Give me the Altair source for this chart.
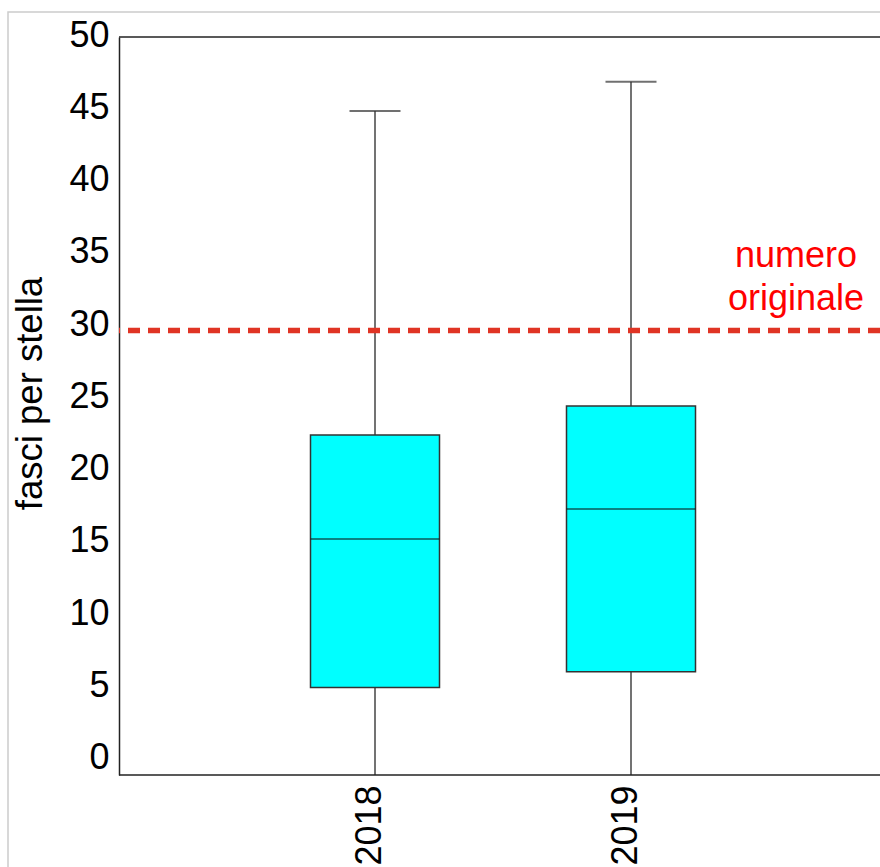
import altair as alt
import pandas as pd

# ---- data ----
years = ["2018", "2019"]
w_min = [-1.05, -1.05]
q1 = [5.0, 6.1]
median = [15.27, 17.35]
q3 = [22.47, 24.47]
w_max = [44.88, 46.9]

reference_value = 29.7
note_lines = ["numero", "originale"]
note_y = [34.09, 31.11]

y_ticks = [0, 5, 10, 15, 20, 25, 30, 35, 40, 45, 50]
y_domain = [-1.05, 50]

df = pd.DataFrame({"anno": years, "min": w_min, "q1": q1, "med": median,
                   "q3": q3, "max": w_max})
ref_df = pd.DataFrame({"val": [reference_value]})
edge_df = pd.DataFrame({"val": y_domain})
note_df = pd.DataFrame({"txt": note_lines, "y": note_y})

FONT = "Liberation Sans"

x_enc = alt.X("anno:N", sort=years,
              scale=alt.Scale(type="point", range=[256, 512], padding=0),
              axis=alt.Axis(title=None, labelAngle=-90, labelFontSize=36,
                            labelFont=FONT, labelColor="black", ticks=False,
                            labelPadding=10, labelOffset=-6, domain=False,
                            grid=False))
y_scale = alt.Scale(domain=y_domain, nice=False, zero=False)
y_axis = alt.Axis(title="fasci per stella", values=y_ticks, labelFontSize=36,
                  labelFont=FONT, labelColor="black", ticks=False, labelPadding=10,
                  labelOffset=-2, grid=False, domainColor="#222", domainWidth=1.5,
                  titleFont=FONT, titleFontSize=36.5, titleFontWeight="normal",
                  titleColor="black", titleX=-89, titleY=393 - 37,
                  titleBaseline="middle", titleAlign="center")

base = alt.Chart(df)

whisker = base.mark_rule(color="#444", strokeWidth=1.5).encode(
    x=x_enc, y=alt.Y("min:Q", scale=y_scale, axis=y_axis), y2="max:Q")
box = base.mark_bar(width=129, fill="#00FFFF", stroke="#333",
                    strokeWidth=1.5).encode(x=x_enc, y="q1:Q", y2="q3:Q")
med = base.mark_tick(size=129, thickness=1.5, color="#111", orient="horizontal").encode(
    x=x_enc, y="med:Q")
cap = base.mark_tick(size=51, thickness=2, color="#333", orient="horizontal").encode(
    x=x_enc, y="max:Q")

edges = alt.Chart(edge_df).mark_rule(color="#222", strokeWidth=1.5).encode(y="val:Q")

ref = alt.Chart(ref_df).mark_rule(color="#e03424", strokeWidth=5.5,
                                  strokeDash=[12, 8]).encode(y="val:Q")

note = alt.Chart(note_df).mark_text(color="#ff0000", fontSize=36, font=FONT,
                                    align="center", baseline="alphabetic").encode(
    x=alt.value(677), y="y:Q", text="txt:N")

frame = alt.Chart(ref_df).mark_rect(fill=None, stroke="#cccccc", strokeWidth=1.5,
                                    clip=False).encode(
    x=alt.value(-111), x2=alt.value(870), y=alt.value(-25), y2=alt.value(900))

chart = alt.layer(frame, whisker, box, med, cap, edges, ref, note).properties(
    width=761, height=738,
    padding={"left": 119, "top": 37, "right": 0, "bottom": 92},
    autosize=alt.AutoSizeParams(type="none"),
).configure(background="white").configure_view(stroke=None)

chart.save("out.html", embed_options={"renderer": "svg", "actions": False})
